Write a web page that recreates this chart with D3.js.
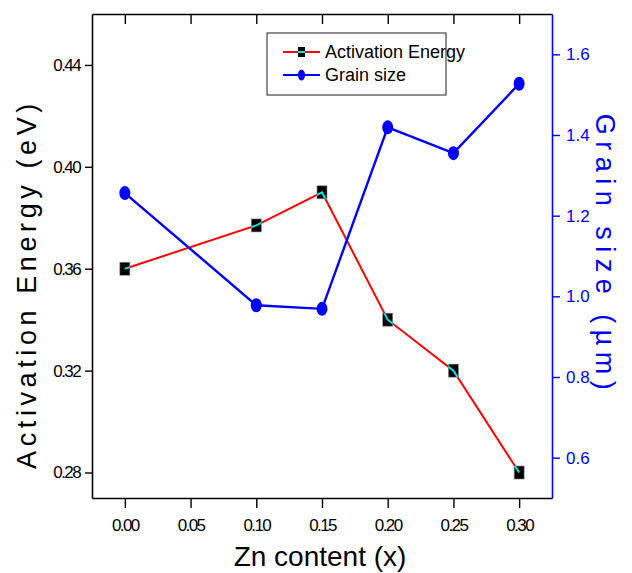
<!DOCTYPE html>
<html>
<head>
<meta charset="utf-8">
<script src="https://cdn.jsdelivr.net/npm/d3@7"></script>
<style>
  body { margin: 0; background: #fff; }
  svg { display: block; font-family: "Liberation Sans", Arial, sans-serif; }
</style>
</head>
<body>
<svg id="chart" width="632" height="573"></svg>
<script>
// Zn content (x)
var zn = [0.00, 0.10, 0.15, 0.20, 0.25, 0.30];
// activation energy (eV)
var energy = [0.360, 0.377, 0.390, 0.340, 0.320, 0.280];
// grain size (um)
var grain = [1.256, 0.978, 0.969, 1.419, 1.355, 1.527];

var xTicks = [0.00, 0.05, 0.10, 0.15, 0.20, 0.25, 0.30];
var leftTicks = [0.28, 0.32, 0.36, 0.40, 0.44];
var rightTicks = [0.6, 0.8, 1.0, 1.2, 1.4, 1.6];

var mLeft = 92, mTop = 14, w = 460, h = 484;

var svg = d3.select("#chart");

var x = d3.scaleLinear().domain([-0.025, 0.325]).range([mLeft, mLeft + w]);
var yL = d3.scaleLinear().domain([0.27, 0.46]).range([mTop + h, mTop]);
var yR = d3.scaleLinear().domain([0.5, 1.7]).range([mTop + h, mTop]);

var f2 = d3.format(".2f"), f1 = d3.format(".1f");

// axes
var gx = svg.append("g").attr("transform", "translate(0," + (mTop + h) + ")")
  .call(d3.axisBottom(x).tickValues(xTicks).tickFormat(f2).tickSize(10).tickSizeOuter(0));
var gxTop = svg.append("g").attr("transform", "translate(0," + mTop + ")")
  .call(d3.axisTop(x).tickValues(xTicks).tickFormat("").tickSize(-10).tickSizeOuter(0));
var gl = svg.append("g").attr("transform", "translate(" + mLeft + ",0)")
  .call(d3.axisLeft(yL).tickValues(leftTicks).tickFormat(f2).tickSize(7).tickSizeOuter(0));
var gr = svg.append("g").attr("transform", "translate(" + (mLeft + w) + ",0)")
  .call(d3.axisRight(yR).tickValues(rightTicks).tickFormat(f1).tickSize(8).tickSizeOuter(0));

[gx, gxTop, gl].forEach(function(g) {
  g.select(".domain").attr("stroke", "#000").attr("stroke-width", 1.6);
  g.selectAll(".tick line").attr("stroke", "#000").attr("stroke-width", 1.4);
});
gr.select(".domain").attr("stroke", "#0000ff").attr("stroke-width", 1.6);
gr.selectAll(".tick line").attr("stroke", "#0000ff").attr("stroke-width", 1.4);

gx.selectAll(".tick text")
  .attr("font-size", 17).attr("fill", "#000").attr("letter-spacing", "-1.6px")
  .attr("dy", 0).attr("y", 33);
gl.selectAll(".tick text")
  .attr("font-size", 17).attr("fill", "#000").attr("letter-spacing", "-1.6px")
  .attr("x", -12);
gr.selectAll(".tick text")
  .attr("font-size", 17).attr("fill", "#0000ff").attr("x", 14);

// axis titles
svg.append("text")
  .attr("x", 320).attr("y", 566)
  .attr("text-anchor", "middle").attr("font-size", 28)
  .text("Zn content (x)");

svg.append("text")
  .attr("transform", "translate(36,284) rotate(-90)")
  .attr("text-anchor", "middle").attr("font-size", 27).attr("letter-spacing", "4.6px")
  .text("Activation Energy (eV)");

svg.append("text")
  .attr("transform", "translate(596,255) rotate(90)")
  .attr("text-anchor", "middle").attr("font-size", 27).attr("letter-spacing", "6.5px")
  .attr("fill", "#0000ff")
  .text("Grain size (\u00b5m)");

// energy series
var eLine = d3.line().x(function(d, i) { return x(zn[i]); }).y(function(d) { return yL(d); });
var mw = 10, mh = 13;

var clip = svg.append("defs").append("clipPath").attr("id", "sqclip");
clip.selectAll("rect").data(energy).enter().append("rect")
  .attr("x", function(d, i) { return x(zn[i]) - mw / 2; })
  .attr("y", function(d) { return yL(d) - mh / 2; })
  .attr("width", mw).attr("height", mh);

svg.append("path").datum(energy)
  .attr("d", eLine).attr("fill", "none").attr("stroke", "#ff0000").attr("stroke-width", 2);

svg.selectAll(".sq").data(energy).enter().append("rect")
  .attr("class", "sq")
  .attr("x", function(d, i) { return x(zn[i]) - mw / 2; })
  .attr("y", function(d) { return yL(d) - mh / 2; })
  .attr("width", mw).attr("height", mh)
  .attr("fill", "#000").attr("stroke", "#888").attr("stroke-width", 0.6);

svg.append("path").datum(energy)
  .attr("d", eLine).attr("fill", "none").attr("stroke", "#00e5e5").attr("stroke-width", 2)
  .attr("clip-path", "url(#sqclip)");

// grain series
var gLine = d3.line().x(function(d, i) { return x(zn[i]); }).y(function(d) { return yR(d); });

svg.append("path").datum(grain)
  .attr("d", gLine).attr("fill", "none").attr("stroke", "#0000ff").attr("stroke-width", 2.4);

svg.selectAll(".dot").data(grain).enter().append("ellipse")
  .attr("class", "dot")
  .attr("cx", function(d, i) { return x(zn[i]); })
  .attr("cy", function(d) { return yR(d); })
  .attr("rx", 5.5).attr("ry", 7)
  .attr("fill", "#0000ff");

// legend
var lg = svg.append("g").attr("transform", "translate(267,33)");
lg.append("rect").attr("width", 179).attr("height", 62)
  .attr("fill", "none").attr("stroke", "#444").attr("stroke-width", 1.2);

lg.append("line").attr("x1", 16).attr("x2", 53).attr("y1", 19).attr("y2", 19)
  .attr("stroke", "#ff0000").attr("stroke-width", 2);
lg.append("rect").attr("x", 31).attr("y", 14).attr("width", 7).attr("height", 10).attr("fill", "#000");
lg.append("line").attr("x1", 31).attr("x2", 38).attr("y1", 19).attr("y2", 19)
  .attr("stroke", "#00e5e5").attr("stroke-width", 2);
lg.append("text").attr("x", 58).attr("y", 25).attr("font-size", 18).text("Activation Energy");

lg.append("line").attr("x1", 16).attr("x2", 53).attr("y1", 42).attr("y2", 42)
  .attr("stroke", "#0000ff").attr("stroke-width", 2.2);
lg.append("ellipse").attr("cx", 34.5).attr("cy", 42).attr("rx", 3.5).attr("ry", 5.5).attr("fill", "#0000ff");
lg.append("text").attr("x", 58).attr("y", 48).attr("font-size", 18).text("Grain size");
</script>
</body>
</html>
